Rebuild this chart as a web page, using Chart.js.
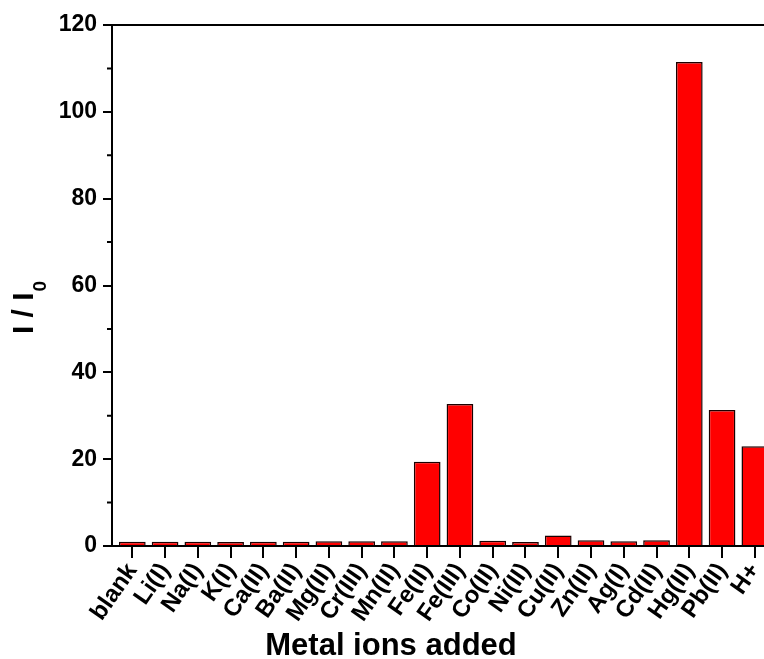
<!DOCTYPE html>
<html><head><meta charset="utf-8">
<script src="https://cdn.jsdelivr.net/npm/chart.js@4.4.1/dist/chart.umd.min.js"></script>
<style>html,body{margin:0;padding:0;background:#fff;overflow:hidden}#wrap{width:764px;height:659px}</style>
</head><body><div id="wrap"><canvas id="c" width="764" height="659"></canvas></div>
<script>
const categories = ["blank","Li(I)","Na(I)","K(I)","Ca(II)","Ba(II)","Mg(II)","Cr(III)","Mn(II)","Fe(II)","Fe(III)","Co(II)","Ni(II)","Cu(II)","Zn(II)","Ag(I)","Cd(II)","Hg(II)","Pb(II)","H+"];
const intensityRatio = [1.0,1.0,1.0,0.95,1.0,1.0,1.1,1.1,1.1,19.4,32.7,1.2,0.95,2.4,1.35,1.1,1.35,111.5,31.3,23.0];
const yTicks = [0,20,40,60,80,100,120];
const yMinorTicks = [10,30,50,70,90,110];
const xTitle = 'Metal ions added';
const yTitleMain = 'I / I';
const yTitleSub = '0';
const FONT = "'Liberation Sans', Arial, sans-serif";

const framePlugin = {
  id: 'frame',
  afterDraw(chart) {
    const ctx = chart.ctx, a = chart.chartArea, y = chart.scales.y;
    ctx.save();
    ctx.strokeStyle = '#000';
    ctx.lineWidth = 2;
    ctx.beginPath();
    ctx.moveTo(a.left - 1, a.top);
    ctx.lineTo(a.right, a.top);
    ctx.stroke();
    ctx.beginPath();
    yMinorTicks.forEach(v => {
      const p = y.getPixelForValue(v);
      ctx.moveTo(a.left - 5, p);
      ctx.lineTo(a.left, p);
    });
    ctx.stroke();
    // axis titles
    ctx.fillStyle = '#000';
    ctx.textBaseline = 'alphabetic';
    ctx.textAlign = 'center';
    ctx.font = 'bold 31px ' + FONT;
    ctx.fillText(xTitle, 391, 655);
    ctx.textAlign = 'left';
    ctx.font = 'bold 30px ' + FONT;
    const w1 = ctx.measureText(yTitleMain).width;
    ctx.font = 'bold 19px ' + FONT;
    const w2 = ctx.measureText(yTitleSub).width;
    ctx.translate(33, 308);
    ctx.rotate(-Math.PI / 2);
    const start = -(w1 + w2) / 2;
    ctx.font = 'bold 30px ' + FONT;
    ctx.fillText(yTitleMain, start, 0);
    ctx.font = 'bold 19px ' + FONT;
    ctx.fillText(yTitleSub, start + w1 + 1, 13);
    ctx.restore();
  }
};

new Chart(document.getElementById('c'), {
  type: 'bar',
  data: {
    datasets: [{
      data: categories.map((c, i) => ({ x: i, y: intensityRatio[i] })),
      backgroundColor: '#ff0000',
      borderColor: '#1a0000',
      borderWidth: 1.5,
      barPercentage: 0.815,
      categoryPercentage: 1.0
    }]
  },
  options: {
    responsive: false,
    animation: false,
    devicePixelRatio: 1,
    layout: { padding: { top: 25, right: 0, left: 0, bottom: 0 } },
    plugins: { legend: { display: false }, tooltip: { enabled: false } },
    scales: {
      x: {
        type: 'linear',
        offset: false,
        min: -0.62,
        max: 19.28,
        afterBuildTicks(s) { s.ticks = categories.map((c, i) => ({ value: i })); },
        afterFit(s) { s.height = 113; s.paddingLeft = 0; s.paddingRight = 0; },
        grid: { offset: false, drawOnChartArea: false, tickLength: 12, lineWidth: 2, color: '#000' },
        border: { display: true, color: '#000', width: 2 },
        ticks: {
          autoSkip: false,
          minRotation: 55,
          maxRotation: 55,
          padding: 0,
          color: '#000',
          font: { family: FONT, size: 24, weight: 'bold' },
          callback: (v) => categories[v]
        },
        title: { display: false }
      },
      y: {
        min: 0,
        max: 120,
        afterBuildTicks(s) { s.ticks = yTicks.map(v => ({ value: v })); },
        afterFit(s) { s.width = 112; s.paddingTop = 0; s.paddingBottom = 0; },
        grid: { drawOnChartArea: false, tickLength: 9, lineWidth: 2, color: '#000' },
        border: { display: true, color: '#000', width: 2 },
        ticks: {
          padding: 6,
          color: '#000',
          font: { family: FONT, size: 23, weight: 'bold' }
        },
        title: { display: false }
      }
    }
  },
  plugins: [framePlugin]
});
</script>
</body></html>
